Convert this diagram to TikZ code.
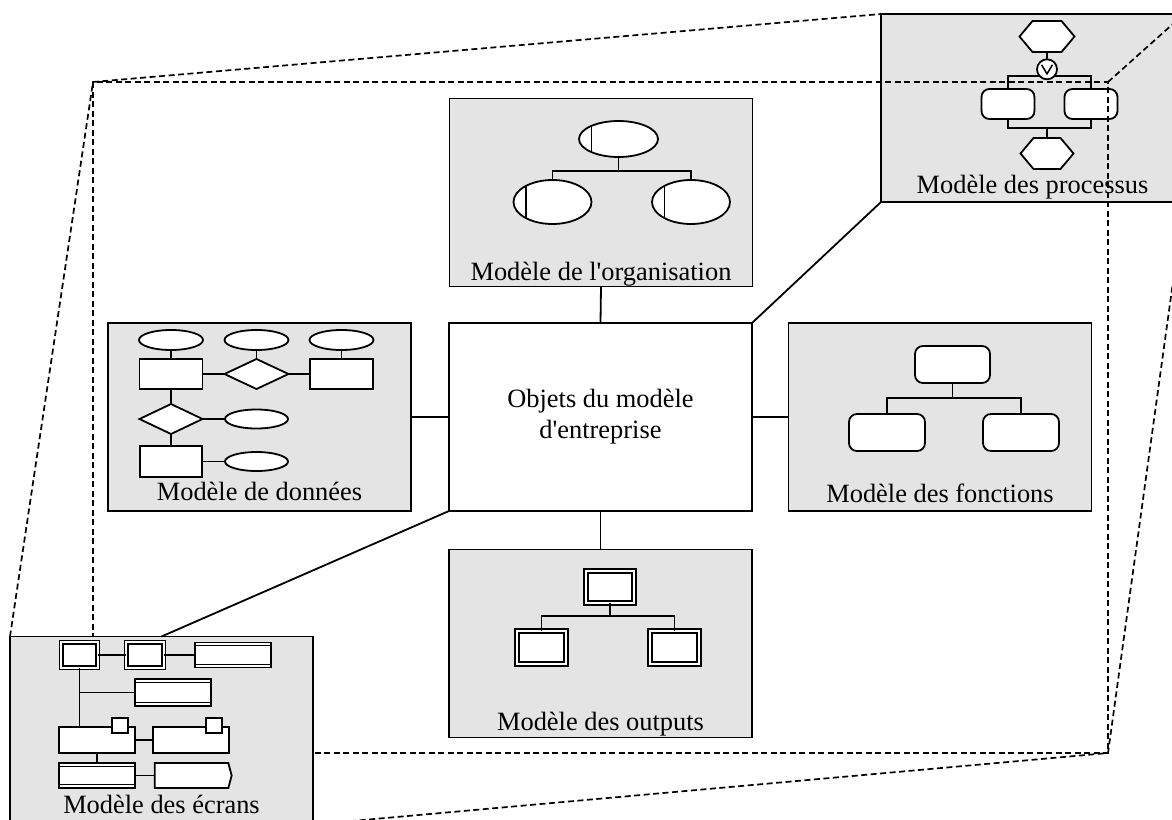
\documentclass[tikz,border=0pt]{standalone}
\usepackage{fontspec}
\setmainfont{Liberation Serif}[Ligatures=TeXOff]
\usetikzlibrary{shapes.geometric,shapes.symbols,calc}
\definecolor{boxgray}{RGB}{228,228,228}
\begin{document}
\begin{tikzpicture}[x=1pt,y=-1pt,
  modelbox/.style={draw,fill=boxgray,line width=1.9pt,minimum width=303pt,minimum height=188pt,inner sep=0pt,outer sep=0pt},
  item/.style={draw,fill=white,line width=1.8pt,inner sep=0pt,outer sep=0pt},
  link/.style={line width=1.8pt},
  frame/.style={line width=1.7pt,dash pattern=on 6pt off 3.5pt},
  lbl/.style={font=\fontsize{26.4}{31}\selectfont,anchor=base,inner sep=0pt},
  orgunit/.style={item,ellipse,path picture={\draw[line width=1.8pt]
      ([xshift=12.5pt]path picture bounding box.north west) --
      ([xshift=12.5pt]path picture bounding box.south west);}},
  fbox/.style={item,rounded corners=8pt},
  outbox/.style={draw,line width=1.5pt,double=white,double distance=2.8pt,fill=white,inner sep=0pt,outer sep=0pt},
  scrbox/.style={draw,line width=1.6pt,double=white,double distance=2pt,fill=white,inner sep=0pt,outer sep=0pt},
  listbar/.style={item,path picture={
      \draw[line width=1.2pt] ([yshift=-3.2pt]path picture bounding box.north west) -- ([yshift=-3.2pt]path picture bounding box.north east);
      \draw[line width=1.2pt] ([yshift=3.2pt]path picture bounding box.south west) -- ([yshift=3.2pt]path picture bounding box.south east);}},
  event/.style={item,signal,signal to=east and west,signal pointer angle=100},
]
\useasboundingbox (0,0) rectangle (1172,819);

% ---------------- process model (behind the dashed frame) ----------------
\node[modelbox] (proc) at (1032.5,108) {};
\node[event,minimum width=55pt,minimum height=31pt] (ph1) at (1047,36.5) {};
\node[fbox,minimum width=53pt,minimum height=30pt] (pr1) at (1008,104) {};
\node[fbox,minimum width=53pt,minimum height=30pt] (pr2) at (1091,104) {};
\node[event,minimum width=53pt,minimum height=31pt] (ph2) at (1047,153.5) {};
\coordinate (pbar1) at (1047,76);
\coordinate (pbar2) at (1047,128);
\draw[link] (pr1.north) |- (pbar1) -| (pr2.north);
\draw[link] (pr1.south) |- (pbar2) -| (pr2.south);
\draw[link] (pbar2) -- (ph2.north);
\node[item,circle,minimum size=20pt,path picture={\draw[line width=1.5pt]
    ([shift={(-5.5pt,4.5pt)}]path picture bounding box.center) --
    ([shift={(0pt,-4.5pt)}]path picture bounding box.center) --
    ([shift={(5.5pt,4.5pt)}]path picture bounding box.center);}] (pc) at (1047,69.3) {};
\draw[link] (ph1.south) -- (pc.north);
\node[lbl] (proclbl) at (1032.5,193) {Modèle des processus};

% ---------------- dashed perspective frame ----------------
\coordinate (backTL) at (93,82);
\coordinate (backTR) at (1108,82);
\coordinate (backBR) at (1108,753);
\coordinate (backBL) at (93,753);
\node[modelbox,draw=none,fill=none] (scrpos) at (161.5,730.5) {};
\draw[frame] (backBL) -- (backTL) -- (backTR) -- (backBR) -- cycle;
\draw[frame] (scrpos.north west) -- (backTL) -- (proc.north west);
\draw[frame] (backTR) -- (proc.north east);
\draw[frame] (proc.south east) -- (backBR) -- (scrpos.south east);

% ---------------- central node ----------------
\node[item,minimum width=303pt,minimum height=188pt,align=center,
      font=\fontsize{26.4}{31}\selectfont] (center) at (600.5,417)
      {Objets du modèle\\d'entreprise};

% ---------------- organisation model ----------------
\node[modelbox] (org) at (601,192.5) {};
\node[orgunit,minimum width=79pt,minimum height=36pt] (o1) at (618.5,139) {};
\node[orgunit,minimum width=78pt,minimum height=44pt] (o2) at (552.5,202) {};
\node[orgunit,minimum width=78pt,minimum height=44pt] (o3) at (691,202) {};
\coordinate (obar) at (618.5,171);
\draw[link] (o1.south) -- (obar);
\draw[link] (o2.north) |- (obar) -| (o3.north);
\node[lbl] (orglbl) at (601,280.5) {Modèle de l'organisation};

% ---------------- data model ----------------
\node[modelbox] (data) at (259.5,417) {};
\node[item,ellipse,minimum width=64pt,minimum height=20pt] (e1) at (171,340) {};
\node[item,ellipse,minimum width=64pt,minimum height=20pt] (e2) at (256.5,340) {};
\node[item,ellipse,minimum width=64pt,minimum height=20pt] (e3) at (341.5,340) {};
\node[item,minimum width=63pt,minimum height=30pt] (r1) at (171,374) {};
\node[item,diamond,minimum width=64pt,minimum height=30pt] (d1) at (256.5,374) {};
\node[item,minimum width=63pt,minimum height=30pt] (r2) at (341.5,374) {};
\node[item,diamond,minimum width=63pt,minimum height=30pt] (d2) at (171,419) {};
\node[item,ellipse,minimum width=63pt,minimum height=19pt] (e4) at (256.5,419) {};
\node[item,minimum width=62pt,minimum height=31pt] (r3) at (171,461.5) {};
\node[item,ellipse,minimum width=63pt,minimum height=19pt] (e5) at (256.5,461.5) {};
\draw[link] (e1) -- (r1);
\draw[link] (e2) -- (d1);
\draw[link] (e3) -- (r2);
\draw[link] (r1) -- (d1);
\draw[link] (d1) -- (r2);
\draw[link] (r1) -- (d2);
\draw[link] (d2) -- (e4);
\draw[link] (d2) -- (r3);
\draw[link] (r3) -- (e5);
\node[lbl] (datalbl) at (259.5,500) {Modèle de données};

% ---------------- function model ----------------
\node[modelbox] (func) at (940,417) {};
\node[fbox,minimum width=75pt,minimum height=37pt] (f1) at (952.5,364.5) {};
\node[fbox,minimum width=76pt,minimum height=37pt] (f2) at (887,432.5) {};
\node[fbox,minimum width=76pt,minimum height=37pt] (f3) at (1021,432.5) {};
\coordinate (fbar) at (952.5,398);
\draw[link] (f1.south) -- (fbar);
\draw[link] (f2.north) |- (fbar) -| (f3.north);
\node[lbl] (funclbl) at (940,502.5) {Modèle des fonctions};

% ---------------- output model ----------------
\node[modelbox] (out) at (600.5,643.5) {};
\node[outbox,minimum width=48pt,minimum height=32pt] (u1) at (610,587) {};
\node[outbox,minimum width=49pt,minimum height=33pt] (u2) at (541.5,647.5) {};
\node[outbox,minimum width=49pt,minimum height=33pt] (u3) at (674.5,647.5) {};
\coordinate (ubar) at (610,616);
\draw[link] (u1.south) -- (ubar);
\draw[link] (u2.north) |- (ubar) -| (u3.north);
\node[lbl] (outlbl) at (600.5,730) {Modèle des outputs};

% ---------------- links to the central node ----------------
\draw[link] (org.south) -- (center.north);
\draw[link] (data.east) -- (center.west);
\draw[link] (center.east) -- (func.west);
\draw[link] (center.south) -- (out.north);
\draw[link] (center.north east) -- (proc.south west);

% ---------------- screen model (in front of the dashed frame) ----------------
\node[modelbox] (scr) at (161.5,730.5) {};
\draw[link] (center.south west) -- (scr.north);
\node[scrbox,minimum width=36.4pt,minimum height=25.4pt] (b1) at (79.5,655) {};
\node[scrbox,minimum width=37.4pt,minimum height=25.4pt] (b2) at (145,655) {};
\node[listbar,minimum width=76pt,minimum height=25pt] (bar1) at (233,655) {};
\node[listbar,minimum width=76pt,minimum height=27pt] (bar2) at (173,692.5) {};
\node[item,minimum width=76pt,minimum height=26pt] (w1) at (97,740) {};
\node[item,minimum width=76pt,minimum height=26pt] (w2) at (191,740) {};
\node[item,minimum width=16pt,minimum height=15pt] (sq1) at (120,725.5) {};
\node[item,minimum width=16pt,minimum height=15pt] (sq2) at (214,725.5) {};
\node[listbar,minimum width=76pt,minimum height=25pt] (bar3) at (97,775.5) {};
\node[item,signal,signal to=east,signal pointer angle=150,minimum width=77pt,minimum height=25pt] (pent) at (191.5,775.5) {};
\draw[link] (b1) -- (b2);
\draw[link] (b2) -- (bar1);
\draw[link] (b1.south) -- (b1.south |- w1.north);
\draw[link] (b1.south |- bar2.west) -- (bar2.west);
\draw[link] (w1) -- (w2);
\draw[link] (w1.south) -- (bar3.north);
\draw[link] (bar3) -- (pent);
\node[lbl] (scrlbl) at (161.5,813) {Modèle des écrans};
\end{tikzpicture}
\end{document}
